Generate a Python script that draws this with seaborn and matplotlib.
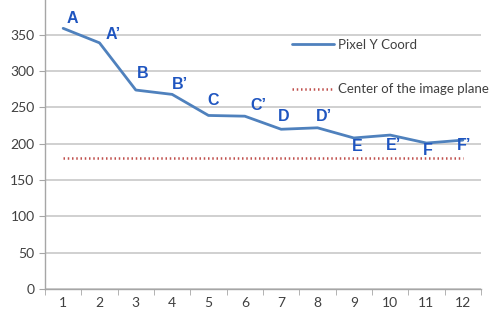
import numpy as np
import pandas as pd
import seaborn as sns
import matplotlib.pyplot as plt

# values
frames = [1, 2, 3, 4, 5, 6, 7, 8, 9, 10, 11, 12]
pixel_y = [359, 339, 274, 268, 239, 238, 220, 222, 208, 212, 201, 205]
center_y = [180] * 12
point_labels = ["A", "A\u2019", "B", "B\u2019", "C", "C\u2019",
                "D", "D\u2019", "E", "E\u2019", "F", "F\u2019"]
# label offsets from the point (x in categories, y in data units)
label_dx = [0.24, 0.37, 0.2, 0.22, 0.13, 0.37, 0.06, 0.19, 0.1, 0.09, 0.05, 0.04]
label_dy = [14, 11, 23, 13, 21, 15, 18, 15, -12, -15, -10, -8]

sns.set_style("white")
plt.rcParams["font.family"] = ["Lato", "DejaVu Sans"]

df = pd.DataFrame({"frame": frames, "Pixel Y Coord": pixel_y,
                   "Center of the image plane": center_y})

fig = plt.figure(figsize=(4.9, 3.14), dpi=100)
ax = fig.add_axes([0.0918, 0.0796, 0.8898, 0.9204])

sns.lineplot(data=df, x="frame", y="Pixel Y Coord", ax=ax, color="#4f81bd",
             linewidth=2.0, label="Pixel Y Coord")
sns.lineplot(data=df, x="frame", y="Center of the image plane", ax=ax,
             color="#c0504d", linewidth=1.8, linestyle=(0, (0.6, 1.1)),
             label="Center of the image plane")

for x, y, lab, dx, dy in zip(frames, pixel_y, point_labels, label_dx, label_dy):
    ax.text(x + dx, y + dy, lab, color="#1f55c0", fontsize=11.5,
            fontweight="bold", family=["Liberation Sans", "DejaVu Sans"],
            ha="center", va="center")

ax.set_xlim(0.5, 12.5)
ax.set_ylim(0, 398)
ax.set_yticks(range(0, 351, 50))
ax.set_xticks(frames)
ax.set_xticks(np.arange(0.5, 12.6, 1), minor=True)
ax.grid(axis="y", color="#c8c8c8", linewidth=1.2)
ax.set_axisbelow(True)
ax.set_xlabel("")
ax.set_ylabel("")
for side in ["top", "right"]:
    ax.spines[side].set_visible(False)
for side in ["left", "bottom"]:
    ax.spines[side].set_color("#a6a6a6")
    ax.spines[side].set_linewidth(1.0)
ax.tick_params(axis="x", which="major", length=0, labelsize=10,
               labelcolor="#404040", pad=6)
ax.tick_params(axis="x", which="minor", length=4, color="#a6a6a6",
               direction="out", bottom=True)
ax.tick_params(axis="y", length=4, color="#a6a6a6", labelsize=10,
               labelcolor="#404040", direction="out", left=True)

leg = ax.legend(loc="upper left", bbox_to_anchor=(0.555, 0.885), frameon=False,
                fontsize=9.5, handlelength=3.2, handletextpad=0.3,
                labelspacing=2.5, borderaxespad=0)
for t in leg.get_texts():
    t.set_color("#404040")

fig.savefig("out.png", dpi=100)
